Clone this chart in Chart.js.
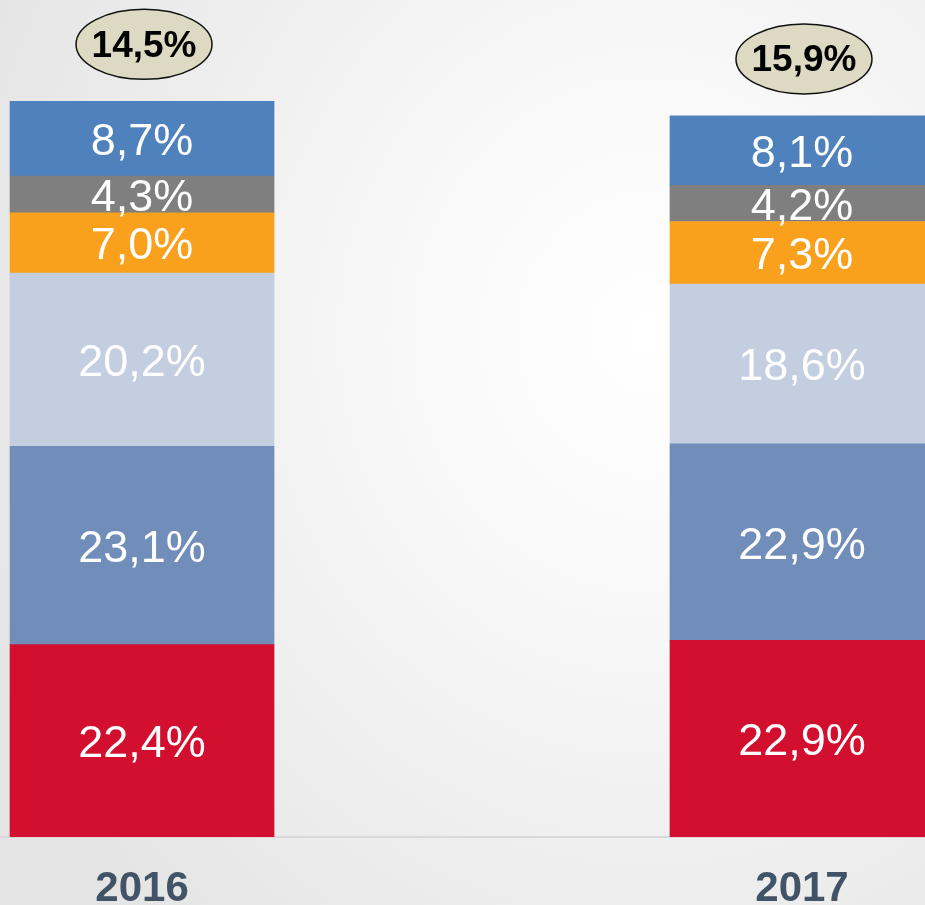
<!DOCTYPE html>
<html>
<head>
<meta charset="utf-8">
<script src="https://cdn.jsdelivr.net/npm/chart.js@4/dist/chart.umd.min.js"></script>
<style>
  html, body {
    margin: 0; padding: 0; width: 925px; height: 905px; overflow: hidden;
    background: radial-gradient(ellipse 80% 90% at 70% 37%, #ffffff 0%, #f9f9f9 30%, #e4e4e4 100%);
  }
  canvas { display: block; }
</style>
</head>
<body>
<canvas id="chart" width="925" height="905"></canvas>
<script>
// Years on the x axis
const years = ['2016', '2017'];

// Stacked shares per year, bottom to top
const shareRed      = [22.4, 22.9];
const shareMidBlue  = [23.1, 22.9];
const sharePaleBlue = [20.2, 18.6];
const shareOrange   = [7.0, 7.3];
const shareGrey     = [4.3, 4.2];
const shareTopBlue  = [8.7, 8.1];

// Values shown in the ovals above each column
const ovalValues = [14.5, 15.9];

const fmt = v => v.toFixed(1).replace('.', ',') + '%';

const stack = [
  { name: 'Segment 1', values: shareRed,      color: '#D20F2F' },
  { name: 'Segment 2', values: shareMidBlue,  color: '#718DBA' },
  { name: 'Segment 3', values: sharePaleBlue, color: '#C3CEE1' },
  { name: 'Segment 4', values: shareOrange,   color: '#F9A01D' },
  { name: 'Segment 5', values: shareGrey,     color: '#7F7F7F' },
  { name: 'Segment 6', values: shareTopBlue,  color: '#4F81BD' }
];

const datasets = stack.map(s => ({
  label: s.name,
  data: s.values.map((v, i) => ({ x: i, y: v })),
  backgroundColor: s.color,
  borderWidth: 0,
  barThickness: 264
}));

// White value text centred in each segment
const segmentLabels = {
  id: 'segmentLabels',
  afterDatasetsDraw(chart) {
    const ctx = chart.ctx;
    ctx.save();
    ctx.fillStyle = '#ffffff';
    ctx.font = '45px "Liberation Sans", Arial, sans-serif';
    ctx.textAlign = 'center';
    ctx.textBaseline = 'middle';
    chart.data.datasets.forEach((ds, di) => {
      chart.getDatasetMeta(di).data.forEach((bar, i) => {
        const cy = (bar.y + bar.base) / 2;
        ctx.fillText(fmt(ds.data[i].y), bar.x, cy + 4);
      });
    });
    ctx.restore();
  }
};

// Beige ovals above the columns
const topOvals = {
  id: 'topOvals',
  afterDatasetsDraw(chart) {
    const ctx = chart.ctx;
    const topMeta = chart.getDatasetMeta(chart.data.datasets.length - 1);
    ctx.save();
    topMeta.data.forEach((bar, i) => {
      const cx = bar.x + 2;
      const cy = bar.y - 57;
      ctx.beginPath();
      ctx.ellipse(cx, cy, 68, 35, 0, 0, Math.PI * 2);
      ctx.fillStyle = '#DDD9C3';
      ctx.fill();
      ctx.lineWidth = 1.5;
      ctx.strokeStyle = '#111111';
      ctx.stroke();
      ctx.fillStyle = '#000000';
      ctx.font = 'bold 37px "Liberation Sans", Arial, sans-serif';
      ctx.textAlign = 'center';
      ctx.textBaseline = 'middle';
      ctx.fillText(fmt(ovalValues[i]), cx, cy + 2);
    });
    ctx.restore();
  }
};

new Chart(document.getElementById('chart'), {
  type: 'bar',
  data: { datasets },
  options: {
    responsive: false,
    animation: false,
    layout: { padding: 0 },
    plugins: { legend: { display: false }, tooltip: { enabled: false } },
    scales: {
      x: {
        type: 'linear',
        stacked: true,
        offset: false,
        min: -0.2152,
        max: 1.1864,
        grid: { display: false, drawTicks: false },
        border: { display: true, color: '#d9d9d9', width: 2 },
        afterBuildTicks(scale) { scale.ticks = [{ value: 0 }, { value: 1 }]; },
        afterFit(scale) { scale.height = 68; },
        ticks: {
          padding: 27,
          color: '#415366',
          font: { family: '"Liberation Sans", Arial, sans-serif', size: 42, weight: 'bold' },
          callback: v => years[v] ?? ''
        }
      },
      y: {
        stacked: true,
        display: false,
        min: 0,
        max: 97.5
      }
    }
  },
  plugins: [segmentLabels, topOvals]
});
</script>
</body>
</html>
